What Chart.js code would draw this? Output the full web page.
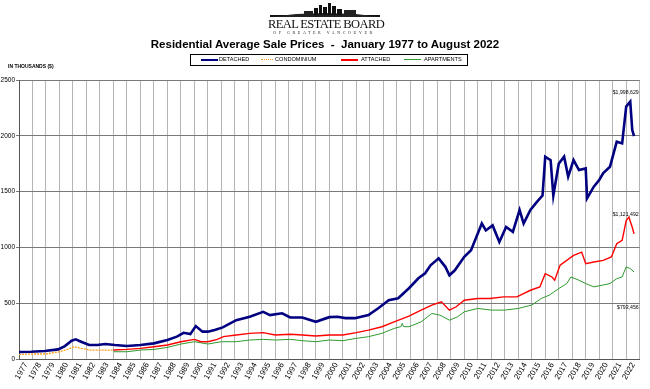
<!DOCTYPE html>
<html>
<head>
<meta charset="utf-8">
<script src="https://cdn.jsdelivr.net/npm/chart.js@4"></script>
<style>
  body { margin: 0; background: #fff; }
  #wrap { position: relative; width: 650px; height: 389px; overflow: hidden; font-family: 'Liberation Sans', Arial, sans-serif; }
  #chart { position: absolute; left: 0; top: 0; }
  .abs { position: absolute; white-space: nowrap; }
  #board { left: 268px; top: 17px; width: 112px; text-align: center; font-family: 'Liberation Serif', serif; font-size: 12.5px; letter-spacing: -0.6px; color: #111; }
  #sub { left: 270px; top: 30px; width: 108px; text-align: center; font-family: 'Liberation Serif', serif; font-size: 4px; letter-spacing: 2.6px; color: #222; }
  #title { left: 0; width: 650px; top: 38px; text-align: center; font-size: 11.5px; font-weight: bold; color: #000; }
  #legend { left: 190px; top: 54px; width: 276px; height: 10px; border: 1px solid #000; }
  .leg { position: absolute; top: 1px; font-size: 5.6px; color: #000; }
  .sw { position: absolute; top: 4px; width: 17px; height: 2px; }
  #units { left: 8px; top: 63px; font-size: 5px; color: #000; font-weight: bold; }
</style>
</head>
<body>
<div id="wrap">
  <canvas id="chart" width="650" height="389"></canvas>
  <svg class="abs" style="left:266px;top:2px" width="118" height="17">
    <rect x="4" y="13" width="110" height="2" fill="#111"/>
    <polygon points="4,15 30,12 60,11 90,12 114,15" fill="#222"/>
    <rect x="48" y="6" width="4" height="7" fill="#111"/>
    <rect x="53" y="3" width="3" height="10" fill="#111"/>
    <rect x="57" y="5" width="4" height="8" fill="#111"/>
    <rect x="62" y="1" width="3" height="12" fill="#111"/>
    <rect x="66" y="4" width="4" height="9" fill="#111"/>
    <rect x="71" y="7" width="5" height="6" fill="#111"/>
    <rect x="78" y="8" width="12" height="5" fill="#222"/>
    <rect x="38" y="9" width="9" height="4" fill="#222"/>
  </svg>
  <div id="board" class="abs">REAL ESTATE BOARD</div>
  <div id="sub" class="abs">OF GREATER VANCOUVER</div>
  <div id="title" class="abs">Residential Average Sale Prices&nbsp; - &nbsp;January 1977 to August 2022</div>
  <div id="legend" class="abs"></div>
  <div id="units" class="abs">IN THOUSANDS ($)</div>
</div>
<script>
// values, [year, thousands of $]
const detached = [
  [1977, 63], [1977.9, 65], [1978.9, 72], [1979.9, 86], [1980.4, 116], [1980.9, 164], [1981.2, 176],
  [1981.6, 155], [1982.2, 125], [1982.8, 125], [1983.4, 134], [1984.1, 125], [1985, 116], [1986, 125],
  [1987, 140], [1988, 170], [1988.7, 200], [1989.2, 235], [1989.7, 223], [1990.1, 295], [1990.6, 245],
  [1991, 245], [1991.5, 260], [1992.1, 283], [1993.1, 348], [1994.1, 378], [1995.1, 423], [1995.6, 393],
  [1996.5, 410], [1997.1, 372], [1998, 372], [1999, 333], [2000, 375], [2000.6, 378], [2001.2, 366],
  [2001.9, 366], [2002.9, 393], [2003.6, 453], [2004.4, 527], [2005.1, 545], [2005.9, 634], [2006.6, 723],
  [2007.1, 768], [2007.5, 840], [2008.1, 902], [2008.6, 826], [2008.9, 750], [2009.3, 795], [2010, 916],
  [2010.5, 974], [2011, 1125], [2011.3, 1214], [2011.6, 1152], [2012.1, 1197], [2012.6, 1048],
  [2013.1, 1183], [2013.6, 1139], [2014.1, 1335], [2014.4, 1214], [2014.9, 1335], [2015.4, 1410],
  [2015.8, 1465], [2016, 1813], [2016.4, 1782], [2016.6, 1465], [2017, 1750], [2017.4, 1813],
  [2017.7, 1634], [2018.1, 1782], [2018.5, 1693], [2019, 1708], [2019.1, 1440], [2019.6, 1544],
  [2020, 1604], [2020.3, 1666], [2020.8, 1723], [2021.3, 1947], [2021.7, 1932], [2022, 2262],
  [2022.3, 2306], [2022.45, 2051], [2022.58, 1998]
];
const condominium = [
  [1977, 40], [1978, 45], [1979, 45], [1980, 65], [1980.6, 86], [1981.1, 110], [1981.6, 95],
  [1982.3, 80], [1983, 80], [1984, 80]
];
const attached = [
  [1984, 80], [1985, 86], [1986, 95], [1987, 110], [1988, 125], [1989, 155], [1990, 176], [1990.5, 155],
  [1991, 155], [1991.7, 176], [1992.15, 200], [1993.1, 215], [1994.1, 230], [1995.1, 236], [1996, 215],
  [1997.1, 222], [1998, 215], [1999, 206], [2000, 215], [2001, 215], [2002, 236], [2002.9, 259],
  [2003.9, 289], [2004.8, 333], [2005.9, 384], [2006.8, 438], [2007.6, 483], [2008.3, 512], [2008.9, 438],
  [2009.4, 468], [2010, 527], [2011, 542], [2011.9, 542], [2012.9, 557], [2013.9, 557], [2014.9, 616],
  [2015.6, 646], [2016, 765], [2016.5, 735], [2016.7, 706], [2017.1, 840], [2018.1, 929], [2018.7, 958],
  [2019, 854], [2019.6, 869], [2020.3, 884], [2020.9, 914], [2021.3, 1033], [2021.7, 1063], [2022, 1241],
  [2022.2, 1271], [2022.45, 1181], [2022.58, 1121]
];
const apartments = [
  [1984, 65], [1985, 65], [1986, 80], [1987, 86], [1988, 104], [1989, 134], [1990, 155], [1991, 134],
  [1992, 155], [1993.1, 155], [1994.1, 170], [1995.1, 176], [1996, 170], [1997.1, 176], [1998, 164],
  [1999, 155], [2000, 170], [2001, 164], [2002, 185], [2002.9, 200], [2003.9, 230], [2004.8, 274],
  [2005.3, 290], [2005.4, 319], [2005.5, 290], [2005.9, 289], [2006.8, 333], [2007.6, 408], [2008.2, 393],
  [2008.9, 348], [2009.5, 378], [2010, 423], [2011, 453], [2012, 438], [2013, 438], [2014, 453],
  [2015, 483], [2015.7, 542], [2016.3, 572], [2017, 631], [2017.6, 676], [2017.9, 735], [2018.5, 706],
  [2019, 676], [2019.6, 646], [2020.2, 661], [2020.8, 676], [2021.3, 720], [2021.7, 735], [2022, 826],
  [2022.3, 810], [2022.58, 780]
];
const seriesNames = ['DETACHED', 'CONDOMINIUM', 'ATTACHED', 'APARTMENTS'];
const yTicks = [0, 500, 1000, 1500, 2000, 2500];
const firstYear = 1977;
const lastYear = 2022;
const endLabels = ['$1,998,629', '$1,121,492', '$793,456'];

const styles = [
  { color: '#000080', width: 2.6, dash: [] },
  { color: '#ff9e1a', width: 1.3, dash: [2, 1] },
  { color: '#ff0000', width: 1.4, dash: [] },
  { color: '#2e9a2e', width: 1, dash: [] }
];

// legend box, built as html
const legendPos = [[10, 28], [70, 84], [150, 170], [213, 233]];
const legendEl = document.getElementById('legend');
seriesNames.forEach((n, i) => {
  const s = styles[i];
  const sw = document.createElement('div');
  sw.className = 'sw';
  sw.style.left = legendPos[i][0] + 'px';
  if (i === 1) {
    sw.style.width = '12px';
    sw.style.height = '0';
    sw.style.borderTop = '1px dotted ' + s.color;
  } else {
    sw.style.width = '17px';
    sw.style.background = s.color;
    if (i === 3) sw.style.height = '1px';
  }
  legendEl.appendChild(sw);
  const t = document.createElement('div');
  t.className = 'leg';
  t.style.left = legendPos[i][1] + 'px';
  t.textContent = n;
  legendEl.appendChild(t);
});

const toPts = arr => arr.map(p => ({ x: p[0], y: p[1] }));

// end-of-series value labels, anchored in data units
const endLabelPlugin = {
  id: 'endLabels',
  afterDatasetsDraw(chart) {
    const { ctx, chartArea, scales } = chart;
    const anchors = [2390, 1290, 457];
    ctx.save();
    ctx.font = '5.2px "Liberation Sans", Arial, sans-serif';
    ctx.fillStyle = '#000';
    ctx.textAlign = 'right';
    ctx.textBaseline = 'middle';
    endLabels.forEach((t, i) => ctx.fillText(t, chartArea.right - 1, scales.y.getPixelForValue(anchors[i])));
    ctx.restore();
  }
};

new Chart(document.getElementById('chart'), {
  type: 'line',
  data: {
    datasets: [detached, condominium, attached, apartments].map((d, i) => ({
      label: seriesNames[i],
      data: toPts(d),
      borderColor: styles[i].color,
      borderWidth: styles[i].width,
      borderDash: styles[i].dash,
      pointRadius: 0,
      tension: 0,
      fill: false
    }))
  },
  options: {
    responsive: false,
    animation: false,
    layout: { padding: { top: 80, right: 5, left: 0, bottom: 0 } },
    plugins: { legend: { display: false }, tooltip: { enabled: false } },
    scales: {
      x: {
        type: 'linear',
        min: firstYear,
        max: lastYear + 1,
        grid: { color: '#b4b4b4', lineWidth: 1, drawTicks: false },
        border: { color: '#555' },
        ticks: {
          stepSize: 1, autoSkip: false, maxRotation: 60, minRotation: 60,
          labelOffset: 7, padding: 2, color: '#000',
          font: { family: 'Liberation Sans', size: 8 },
          callback: v => (v <= lastYear ? String(v) : '')
        },
        afterFit(s) { s.height = 30; }
      },
      y: {
        min: yTicks[0],
        max: yTicks[yTicks.length - 1],
        afterBuildTicks(s) { s.ticks = yTicks.map(v => ({ value: v })); },
        grid: { color: '#7a7a7a', lineWidth: 1, tickLength: 3 },
        border: { color: '#555' },
        ticks: {
          padding: 1, color: '#000',
          font: { family: 'Liberation Sans', size: 6.5 },
          callback: v => String(v)
        },
        afterFit(s) { s.width = 19; }
      }
    }
  },
  plugins: [endLabelPlugin]
});
</script>
</body>
</html>
